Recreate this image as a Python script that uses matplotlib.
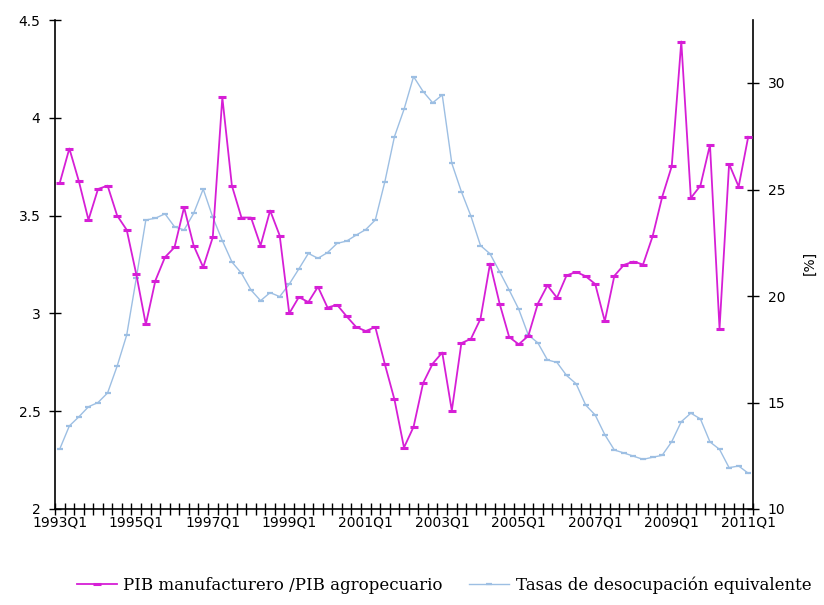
import numpy as np
import matplotlib
matplotlib.use("Agg")
import matplotlib.pyplot as plt
from matplotlib.ticker import FixedLocator, NullFormatter

# Trimestres 1993Q1 - 2011Q1
anios = range(1993, 2012)
trimestres = [f"{a}Q{q}" for a in anios for q in range(1, 5)][:73]

# PIB manufacturero / PIB agropecuario (eje izquierdo)
ratio_pib = [3.667, 3.843, 3.675, 3.478, 3.636, 3.653, 3.50, 3.427, 3.20, 2.944,
             3.168, 3.287, 3.338, 3.542, 3.347, 3.236, 3.389, 4.104, 3.653, 3.49,
             3.49, 3.347, 3.526, 3.398, 3.00, 3.083, 3.058, 3.136, 3.03, 3.044,
             2.985, 2.93, 2.91, 2.93, 2.74, 2.56, 2.314, 2.42, 2.644, 2.743,
             2.80, 2.503, 2.848, 2.87, 2.972, 3.255, 3.05, 2.879, 2.842, 2.885,
             3.05, 3.143, 3.08, 3.194, 3.212, 3.19, 3.15, 2.96, 3.192, 3.248,
             3.265, 3.25, 3.394, 3.595, 3.752, 4.39, 3.59, 3.653, 3.862, 2.922,
             3.764, 3.648, 3.903]

# Tasas de desocupacion equivalente (eje derecho, %)
desocupacion = [12.82, 13.9, 14.33, 14.8, 15.0, 15.45, 16.71, 18.17, 20.83, 23.57,
                23.65, 23.86, 23.25, 23.1, 23.88, 25.02, 23.7, 22.6, 21.6, 21.07,
                20.28, 19.78, 20.16, 19.97, 20.56, 21.27, 22.0, 21.77, 22.04, 22.47,
                22.58, 22.86, 23.12, 23.57, 25.37, 27.48, 28.76, 30.3, 29.6, 29.07,
                29.44, 26.23, 24.9, 23.75, 22.37, 21.98, 21.14, 20.28, 19.38, 18.17,
                17.8, 17.0, 16.88, 16.27, 15.88, 14.88, 14.41, 13.49, 12.77, 12.63,
                12.48, 12.33, 12.43, 12.52, 13.16, 14.1, 14.5, 14.23, 13.15, 12.8,
                11.94, 12.02, 11.68]

x = np.arange(len(trimestres))

fig = plt.figure(figsize=(8.24, 6.05), dpi=100)
ax = fig.add_axes([55 / 824, 1 - 509 / 605, 698 / 824, 489 / 605])
ax2 = ax.twinx()

color_pib = "#d61fd6"
color_des = "#9dbfe3"

l1, = ax.plot(x, ratio_pib, color=color_pib, lw=1.3, marker="_", ms=6, mew=2.2,
              label="PIB manufacturero /PIB agropecuario", zorder=3)
l2, = ax2.plot(x, desocupacion, color=color_des, lw=1.0, marker="_", ms=5, mew=1.6,
               label="Tasas de desocupación equivalente", zorder=2)
ax.set_zorder(ax2.get_zorder() + 1)
ax.patch.set_visible(False)

ax.set_xlim(-0.5, len(x) - 0.5)
ax.set_ylim(2, 4.5)
ax2.set_ylim(10, 10 + 489 / 21.3)

ax.set_yticks([2, 2.5, 3, 3.5, 4, 4.5])
ax.set_yticklabels(["2", "2.5", "3", "3.5", "4", "4.5"])
ax2.set_yticks([10, 15, 20, 25, 30])

ax.set_xticks(x[::8])
ax.set_xticklabels([trimestres[i] for i in x[::8]])
ax.xaxis.set_minor_locator(FixedLocator(np.arange(-0.5, len(x), 1)))
ax.xaxis.set_minor_formatter(NullFormatter())
ax.tick_params(axis="x", which="major", length=0, pad=5, labelsize=10)
ax.tick_params(axis="x", which="minor", direction="inout", length=8, width=1)
ax.tick_params(axis="y", direction="inout", length=9, width=1, labelsize=10, pad=6)
ax2.tick_params(axis="y", direction="inout", length=9, width=1, labelsize=10, pad=6)

for a in (ax, ax2):
    a.spines["top"].set_visible(False)
    for s in ("left", "right", "bottom"):
        a.spines[s].set_linewidth(1.2)
ax.spines["right"].set_visible(False)
ax2.spines["left"].set_visible(False)
ax2.spines["bottom"].set_visible(False)

fig.text(810 / 824, 1 - 263 / 605, "[%]", rotation=90, ha="center", va="center",
         fontsize=10)

fig.legend(handles=[l1, l2], loc="center", bbox_to_anchor=(0.539, 1 - 585 / 605),
           ncol=2, frameon=False, handlelength=2.4, handletextpad=0.4,
           columnspacing=1.6, prop={"family": "DejaVu Serif", "size": 12})

fig.savefig("out.png", dpi=100)
